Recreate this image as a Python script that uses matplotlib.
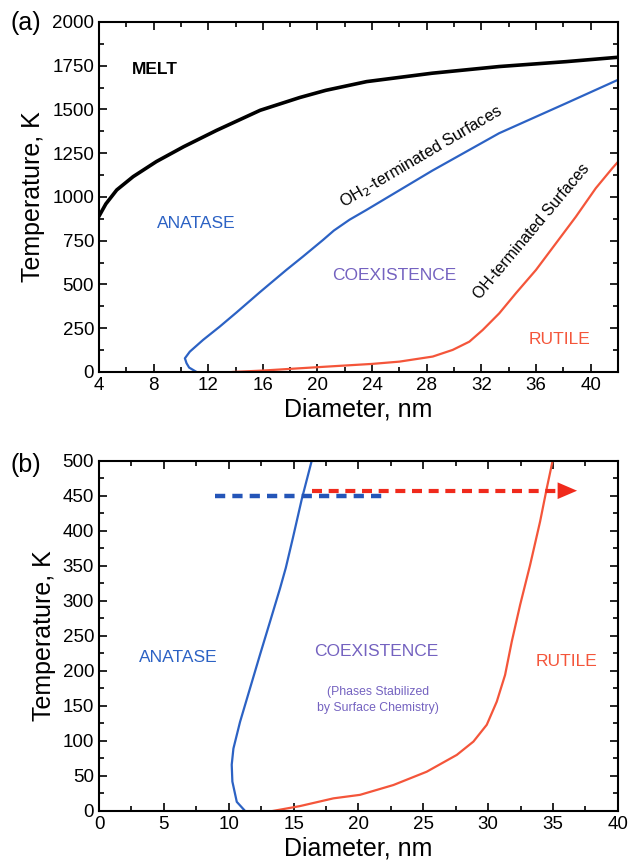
import matplotlib.pyplot as plt
from matplotlib.ticker import MultipleLocator

plt.rcParams['font.family'] = ['Liberation Sans', 'DejaVu Sans']

# panel (a) data
melt_d = [4, 4.5, 5.3, 6.5, 8.2, 10.2, 12.6, 15.8, 18.7, 20.6, 23.6, 28.4, 33.3, 38.2, 42]
melt_t = [890, 960, 1040, 1116, 1202, 1287, 1380, 1495, 1568, 1609, 1659, 1707, 1745, 1773, 1798]

oh2_d = [11.14, 10.6, 10.41, 10.29, 10.65, 11.62, 12.84, 14.07, 15.77, 16.5, 17.72, 18.93,
         20.4, 21.2, 22.35, 23.57, 28.4, 33.3, 38.2, 42.0]
oh2_t = [0, 25, 50, 78, 116, 183, 259, 340, 455, 503, 583, 659,
         754, 808, 870, 925, 1150, 1364, 1535, 1669]

oh_d = [13.8, 16, 18.7, 21, 24, 26.0, 28.44, 29.9, 31.12, 32.1, 33.31, 34.53, 36.0, 37.46,
        38.92, 40.38, 41.6, 42]
oh_t = [0, 8, 21, 32, 46, 59, 88, 126, 173, 240, 335, 450, 583, 735,
        887, 1050, 1165, 1200]

# panel (b) data
anat_d = [11.26, 10.62, 10.28, 10.23, 10.36, 10.87, 11.64, 12.41, 13.18, 13.96, 14.4, 14.95,
          15.63, 16.4]
anat_t = [0, 13, 42, 66, 89, 127, 175, 223, 270, 318, 347, 390, 445, 500]

rut_d = [13.4, 15.5, 18.07, 20.12, 22.69, 25.26, 27.58, 28.86, 29.89, 30.66, 31.3, 31.82,
         32.46, 33.23, 34.0, 34.52, 34.98]
rut_t = [0, 7, 18, 23, 37, 56, 80, 99, 123, 156, 194, 242, 294, 351, 413, 461, 501]

blue_arrow_d = [8.94, 22.2]
blue_arrow_t = 450
red_arrow_d = [16.4, 35.4]
red_arrow_t = 457
red_arrow_tip = 36.85

BLUE = '#2c62c4'
RED = '#f4553a'
PURPLE = '#7462c0'

fig = plt.figure(figsize=(6.29, 8.63), dpi=100)
ax1 = fig.add_axes([0.1574, 0.569, 0.825, 0.4056])
ax2 = fig.add_axes([0.1574, 0.0603, 0.825, 0.406])


def style(ax):
    for s in ax.spines.values():
        s.set_linewidth(1.5)
    ax.tick_params(which='both', direction='in', top=True, right=True, width=1.2, labelsize=13.5)
    ax.tick_params(which='major', length=6)
    ax.tick_params(which='minor', length=3.5)


# (a)
ax1.plot(melt_d, melt_t, color='black', lw=2.6)
ax1.plot(oh2_d, oh2_t, color=BLUE, lw=1.6)
ax1.plot(oh_d, oh_t, color=RED, lw=1.6)
ax1.set_xlim(4, 42)
ax1.set_ylim(0, 2000)
ax1.xaxis.set_major_locator(MultipleLocator(4))
ax1.xaxis.set_minor_locator(MultipleLocator(2))
ax1.yaxis.set_major_locator(MultipleLocator(250))
ax1.yaxis.set_minor_locator(MultipleLocator(125))
style(ax1)
ax1.set_xlabel('Diameter, nm', fontsize=18, labelpad=3)
ax1.set_ylabel('Temperature, K', fontsize=18, labelpad=5)

ax1.text(8.1, 1726, 'MELT', color='black', fontsize=12.5, fontweight='bold', ha='center', va='center')
ax1.text(11.1, 851, 'ANATASE', color=BLUE, fontsize=12.5, ha='center', va='center')
ax1.text(25.6, 549, 'COEXISTENCE', color=PURPLE, fontsize=12.5, ha='center', va='center')
ax1.text(37.7, 187, 'RUTILE', color=RED, fontsize=12.5, ha='center', va='center')
ax1.text(27.6, 1230, 'OH$_2$-terminated Surfaces', fontsize=11.8, rotation=30.5, ha='center',
         va='center', rotation_mode='anchor')
ax1.text(35.7, 800, 'OH-terminated Surfaces', fontsize=11.4, rotation=50, ha='center', va='center',
         rotation_mode='anchor')
fig.text(0.017, 0.973, '(a)', fontsize=18, ha='left', va='center')

# (b)
ax2.plot(anat_d, anat_t, color=BLUE, lw=1.6)
ax2.plot(rut_d, rut_t, color=RED, lw=1.6)
ax2.plot(blue_arrow_d, [blue_arrow_t] * 2, color='#2455b8', lw=3.2, ls=(0, (2.3, 1.6)))
ax2.plot(red_arrow_d, [red_arrow_t] * 2, color='#f02a1c', lw=3.0, ls=(0, (2.4, 1.6)))
ax2.annotate('', xy=(red_arrow_tip, red_arrow_t), xytext=(red_arrow_d[1] - 0.2, red_arrow_t),
             arrowprops=dict(arrowstyle='-|>,head_length=1.4,head_width=0.6', color='#f02a1c',
                             lw=0, shrinkA=0, shrinkB=0))
ax2.set_xlim(0, 40)
ax2.set_ylim(0, 500)
ax2.xaxis.set_major_locator(MultipleLocator(5))
ax2.xaxis.set_minor_locator(MultipleLocator(2.5))
ax2.yaxis.set_major_locator(MultipleLocator(50))
ax2.yaxis.set_minor_locator(MultipleLocator(25))
style(ax2)
ax2.set_xlabel('Diameter, nm', fontsize=18, labelpad=3)
ax2.set_ylabel('Temperature, K', fontsize=18, labelpad=5)

ax2.text(6.1, 219, 'ANATASE', color=BLUE, fontsize=12.5, ha='center', va='center')
ax2.text(21.4, 227, 'COEXISTENCE', color=PURPLE, fontsize=12.5, ha='center', va='center')
ax2.text(21.5, 159, '(Phases Stabilized\nby Surface Chemistry)', color=PURPLE, fontsize=8.8,
         ha='center', va='center', linespacing=1.45)
ax2.text(36.0, 213, 'RUTILE', color=RED, fontsize=12.5, ha='center', va='center')
fig.text(0.017, 0.461, '(b)', fontsize=18, ha='left', va='center')

fig.savefig('out.png', dpi=100)
